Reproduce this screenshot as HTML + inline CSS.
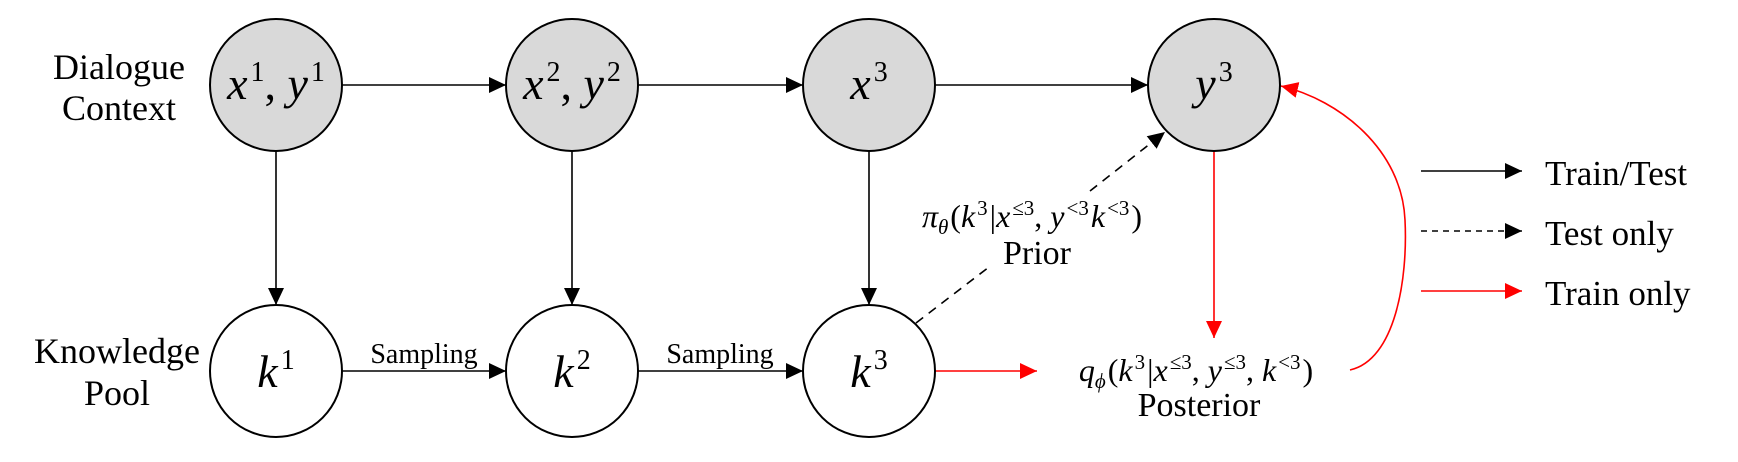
<!DOCTYPE html>
<html><head><meta charset="utf-8"><style>
html,body{margin:0;padding:0;background:#fff;}
svg{display:block;}
text{font-family:"Liberation Serif","DejaVu Serif",serif;fill:#000;}
.m{font-style:italic;}
</style></head><body>
<svg width="1738" height="462" viewBox="0 0 1738 462" font-family="Liberation Serif, serif">
<defs>
<marker id="ab" markerUnits="userSpaceOnUse" markerWidth="18" markerHeight="16" refX="17" refY="8" orient="auto"><path d="M0,0 L17,8 L0,16 Z" fill="#000"/></marker>
<marker id="ar" markerUnits="userSpaceOnUse" markerWidth="18" markerHeight="16" refX="17" refY="8" orient="auto"><path d="M0,0 L17,8 L0,16 Z" fill="#ff0000"/></marker>
</defs>

<g>
<text x="119" y="79" font-size="36" text-anchor="middle">Dialogue</text>
<text x="119" y="120" font-size="36" text-anchor="middle">Context</text>
<text x="117" y="363" font-size="36" text-anchor="middle">Knowledge</text>
<text x="117" y="405" font-size="36" text-anchor="middle">Pool</text>
</g>

<g stroke="#000" stroke-width="1.6" fill="none">
<line x1="342" y1="85" x2="506" y2="85" marker-end="url(#ab)"/>
<line x1="638" y1="85" x2="803" y2="85" marker-end="url(#ab)"/>
<line x1="935" y1="85" x2="1148" y2="85" marker-end="url(#ab)"/>
<line x1="276" y1="151" x2="276" y2="305" marker-end="url(#ab)"/>
<line x1="572" y1="151" x2="572" y2="305" marker-end="url(#ab)"/>
<line x1="869" y1="151" x2="869" y2="305" marker-end="url(#ab)"/>
<line x1="342" y1="371" x2="506" y2="371" marker-end="url(#ab)"/>
<line x1="638" y1="371" x2="803" y2="371" marker-end="url(#ab)"/>
<line x1="916" y1="323" x2="989" y2="267" stroke-dasharray="9,7"/>
<line x1="1090" y1="191" x2="1165" y2="132" stroke-dasharray="9,7" marker-end="url(#ab)"/>
</g>

<g stroke="#ff0000" stroke-width="1.6" fill="none">
<line x1="1214" y1="151" x2="1214" y2="338" marker-end="url(#ar)"/>
<line x1="935" y1="371" x2="1037" y2="371" marker-end="url(#ar)"/>
<path d="M1350,370 C1395,360 1408,280 1405,220 C1402,150 1340,100 1281,86" marker-end="url(#ar)"/>
</g>

<g stroke="#000" stroke-width="2">
<circle cx="276" cy="85" r="66" fill="#d9d9d9"/>
<circle cx="572" cy="85" r="66" fill="#d9d9d9"/>
<circle cx="869" cy="85" r="66" fill="#d9d9d9"/>
<circle cx="1214" cy="85" r="66" fill="#d9d9d9"/>
<circle cx="276" cy="371" r="66" fill="#fff"/>
<circle cx="572" cy="371" r="66" fill="#fff"/>
<circle cx="869" cy="371" r="66" fill="#fff"/>
</g>

<g font-size="46">
<text x="276" y="99" text-anchor="middle"><tspan class="m">x</tspan><tspan font-size="28" dx="3" dy="-18">1</tspan><tspan dy="18">, </tspan><tspan class="m">y</tspan><tspan font-size="28" dx="3" dy="-18">1</tspan></text>
<text x="572" y="99" text-anchor="middle"><tspan class="m">x</tspan><tspan font-size="28" dx="3" dy="-18">2</tspan><tspan dy="18">, </tspan><tspan class="m">y</tspan><tspan font-size="28" dx="3" dy="-18">2</tspan></text>
<text x="869" y="99" text-anchor="middle"><tspan class="m">x</tspan><tspan font-size="28" dx="3" dy="-18">3</tspan></text>
<text x="1214" y="99" text-anchor="middle"><tspan class="m">y</tspan><tspan font-size="28" dx="3" dy="-18">3</tspan></text>
<text x="276" y="387" text-anchor="middle"><tspan class="m">k</tspan><tspan font-size="28" dx="3" dy="-18">1</tspan></text>
<text x="572" y="387" text-anchor="middle"><tspan class="m">k</tspan><tspan font-size="28" dx="3" dy="-18">2</tspan></text>
<text x="869" y="387" text-anchor="middle"><tspan class="m">k</tspan><tspan font-size="28" dx="3" dy="-18">3</tspan></text>
</g>

<text x="424" y="363" font-size="28" text-anchor="middle">Sampling</text>
<text x="720" y="363" font-size="28" text-anchor="middle">Sampling</text>

<text x="1032" y="227" font-size="32" text-anchor="middle"><tspan class="m">π</tspan><tspan class="m" font-size="21" dy="7">θ</tspan><tspan dx="2" dy="-7">(</tspan><tspan class="m">k</tspan><tspan font-size="21" dx="2" dy="-12">3</tspan><tspan dx="2" dy="12">|</tspan><tspan class="m">x</tspan><tspan font-size="21" dx="2" dy="-12">≤3</tspan><tspan dy="12">, </tspan><tspan class="m">y</tspan><tspan font-size="21" dx="2" dy="-12">&lt;3</tspan><tspan class="m" dx="2" dy="12">k</tspan><tspan font-size="21" dx="2" dy="-12">&lt;3</tspan><tspan dx="2" dy="12">)</tspan></text>
<text x="1037" y="264" font-size="34" text-anchor="middle">Prior</text>

<text x="1196" y="381" font-size="32" text-anchor="middle"><tspan class="m">q</tspan><tspan class="m" font-size="21" dy="7">ϕ</tspan><tspan dx="2" dy="-7">(</tspan><tspan class="m">k</tspan><tspan font-size="21" dx="2" dy="-12">3</tspan><tspan dx="2" dy="12">|</tspan><tspan class="m">x</tspan><tspan font-size="21" dx="2" dy="-12">≤3</tspan><tspan dy="12">, </tspan><tspan class="m">y</tspan><tspan font-size="21" dx="2" dy="-12">≤3</tspan><tspan dy="12">, </tspan><tspan class="m">k</tspan><tspan font-size="21" dx="2" dy="-12">&lt;3</tspan><tspan dx="2" dy="12">)</tspan></text>
<text x="1199" y="416" font-size="34" text-anchor="middle">Posterior</text>

<g>
<line x1="1421" y1="171" x2="1522" y2="171" stroke="#000" stroke-width="1.6" marker-end="url(#ab)"/>
<text x="1545" y="185" font-size="35">Train/Test</text>
<line x1="1421" y1="231" x2="1522" y2="231" stroke="#000" stroke-width="1.6" stroke-dasharray="6,5" marker-end="url(#ab)"/>
<text x="1545" y="245" font-size="35">Test only</text>
<line x1="1421" y1="291" x2="1522" y2="291" stroke="#ff0000" stroke-width="1.6" marker-end="url(#ar)"/>
<text x="1545" y="305" font-size="35">Train only</text>
</g>
</svg>
</body></html>
